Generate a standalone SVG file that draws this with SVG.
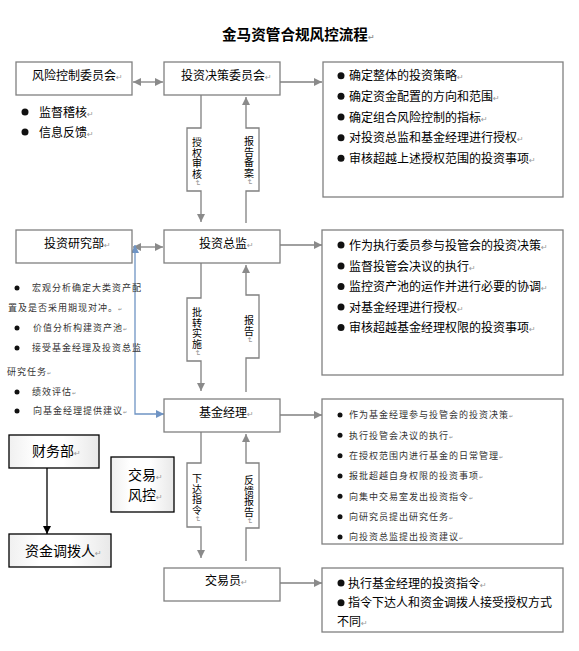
<svg xmlns="http://www.w3.org/2000/svg" width="579" height="651" viewBox="0 0 579 651">
<style>
.box{fill:#fff;stroke:#808080;stroke-width:1.3}
.fbox{fill:url(#grad);stroke:#000;stroke-width:1.3}
.t{font-family:"Noto Sans CJK SC","Noto Sans",sans-serif;font-size:12px;fill:#000}
.title{font-size:14.6px;font-weight:bold}
.big{font-size:14px}
.s{font-size:9px;letter-spacing:1px;fill:#333}
.v{font-size:10px;writing-mode:vertical-rl;letter-spacing:0.75px}
.pm{font-family:"DejaVu Sans",sans-serif;font-size:8px;fill:#999;letter-spacing:0}
.pms{font-family:"DejaVu Sans",sans-serif;font-size:5px;fill:#888;letter-spacing:0}
.c{fill:none;stroke:#808080;stroke-width:1.3}
.cb{fill:none;stroke:#6f94c4;stroke-width:1.3}
.ck{fill:none;stroke:#000;stroke-width:1.3}
.dot{fill:#111}
</style>
<defs>
<linearGradient id="grad" x1="0" y1="0" x2="1" y2="0">
<stop offset="0" stop-color="#f0f0f0"/>
<stop offset="0.3" stop-color="#ffffff"/>
<stop offset="0.6" stop-color="#ffffff"/>
<stop offset="1" stop-color="#e8e8e8"/>
</linearGradient>
<marker id="ah" markerUnits="userSpaceOnUse" markerWidth="9" markerHeight="9" refX="8" refY="4" orient="auto-start-reverse"><path d="M0,0 L8,4 L0,8 z" fill="#8a8a8a"/></marker>
<marker id="ahb" markerUnits="userSpaceOnUse" markerWidth="9" markerHeight="9" refX="8" refY="4" orient="auto-start-reverse"><path d="M0,0 L8,4 L0,8 z" fill="#6f94c4"/></marker>
<marker id="ahk" markerUnits="userSpaceOnUse" markerWidth="9" markerHeight="9" refX="8" refY="4" orient="auto-start-reverse"><path d="M0,0 L8,4 L0,8 z" fill="#000"/></marker>
</defs>
<rect width="579" height="651" fill="#fff"/>

<text class="t title" x="222" y="40">金马资管合规风控流程<tspan class="pm">↵</tspan></text>

<g id="connectors">
<path class="c" d="M133,82 L163,82" marker-start="url(#ah)" marker-end="url(#ah)"/>
<path class="c" d="M280,82 L322,82" marker-end="url(#ah)"/>
<path class="c" d="M201,95 L201,128 L187,128 L187,191 L201,191 L201,222" marker-end="url(#ah)"/>
<path class="c" d="M246,223 L246,191 L259,191 L259,128 L246,128 L246,97" marker-end="url(#ah)"/>
<path class="c" d="M133,247 L163,247" marker-start="url(#ah)" marker-end="url(#ah)"/>
<path class="c" d="M280,245 L322,245" marker-end="url(#ah)"/>
<path class="c" d="M201,263 L201,298 L187,298 L187,361 L201,361 L201,391" marker-end="url(#ah)"/>
<path class="c" d="M246,392 L246,358 L259,358 L259,295 L246,295 L246,265" marker-end="url(#ah)"/>
<path class="cb" d="M135,245 L135,414 L164,414" marker-start="url(#ahb)" marker-end="url(#ahb)"/>
<path class="c" d="M280,415 L322,415" marker-end="url(#ah)"/>
<path class="c" d="M201,432 L201,463 L187,463 L187,527 L201,527 L201,558" marker-end="url(#ah)"/>
<path class="c" d="M246,561 L246,528 L259,528 L259,463 L246,463 L246,434" marker-end="url(#ah)"/>
<path class="c" d="M280,583 L322,583" marker-end="url(#ah)"/>
<path class="ck" d="M47,468 L47,534" marker-end="url(#ahk)"/>
<text class="t v" x="197" y="137">授权审核<tspan class="pm">↵</tspan></text>
<text class="t v" x="249" y="136">报告备案<tspan class="pm">↵</tspan></text>
<text class="t v" x="197" y="307">批转实施<tspan class="pm">↵</tspan></text>
<text class="t v" x="249" y="315">报告<tspan class="pm">↵</tspan></text>
<text class="t v" x="197" y="473">下达指令<tspan class="pm">↵</tspan></text>
<text class="t v" x="249" y="475">反馈报告<tspan class="pm">↵</tspan></text>
</g>

<g id="risk-committee">
<rect class="box" x="16" y="62" width="116" height="33"/>
<text class="t" x="32" y="79.5">风险控制委员会<tspan class="pm">↵</tspan></text>
<circle class="dot" cx="25" cy="112" r="3.5"/>
<text class="t" x="39" y="116.5">监督稽核<tspan class="pm">↵</tspan></text>
<circle class="dot" cx="25" cy="132" r="3.5"/>
<text class="t" x="39" y="136.5">信息反馈<tspan class="pm">↵</tspan></text>
</g>

<g id="decision-committee">
<rect class="box" x="164" y="62" width="116" height="33"/>
<text class="t" x="181" y="79.5">投资决策委员会<tspan class="pm">↵</tspan></text>
</g>

<g id="decision-duties">
<rect class="box" x="323" y="62" width="240" height="135"/>
<circle class="dot" cx="341" cy="75.7" r="3.5"/>
<text class="t" x="349" y="80">确定整体的投资策略<tspan class="pm">↵</tspan></text>
<circle class="dot" cx="341" cy="96.3" r="3.5"/>
<text class="t" x="349" y="101">确定资金配置的方向和范围<tspan class="pm">↵</tspan></text>
<circle class="dot" cx="341" cy="117" r="3.5"/>
<text class="t" x="349" y="121.5">确定组合风险控制的指标<tspan class="pm">↵</tspan></text>
<circle class="dot" cx="341" cy="137.7" r="3.5"/>
<text class="t" x="349" y="142">对投资总监和基金经理进行授权<tspan class="pm">↵</tspan></text>
<circle class="dot" cx="341" cy="158.3" r="3.5"/>
<text class="t" x="349" y="163">审核超越上述授权范围的投资事项<tspan class="pm">↵</tspan></text>
</g>

<g id="research-dept">
<rect class="box" x="16" y="230" width="116" height="33"/>
<text class="t" x="44" y="247.5">投资研究部<tspan class="pm">↵</tspan></text>
<circle class="dot" cx="17" cy="288" r="2.5"/>
<text class="t s" x="32" y="291.4">宏观分析确定大类资产配</text>
<text class="t s" x="8" y="311.4">置及是否采用期现对冲。<tspan class="pms">↵</tspan></text>
<circle class="dot" cx="17" cy="328" r="2.5"/>
<text class="t s" x="33" y="331.4">价值分析构建资产池<tspan class="pms">↵</tspan></text>
<circle class="dot" cx="17" cy="348" r="2.5"/>
<text class="t s" x="32" y="351.4">接受基金经理及投资总监</text>
<text class="t s" x="7" y="375">研究任务<tspan class="pms">↵</tspan></text>
<circle class="dot" cx="17" cy="392" r="2.5"/>
<text class="t s" x="32" y="395.4">绩效评估<tspan class="pms">↵</tspan></text>
<circle class="dot" cx="17" cy="411" r="2.5"/>
<text class="t s" x="33" y="414.4">向基金经理提供建议<tspan class="pms">↵</tspan></text>
</g>

<g id="cio">
<rect class="box" x="164" y="230" width="116" height="33"/>
<text class="t" x="199" y="247.5">投资总监<tspan class="pm">↵</tspan></text>
</g>

<g id="cio-duties">
<rect class="box" x="322" y="230" width="241" height="145"/>
<circle class="dot" cx="341" cy="245" r="3.5"/>
<text class="t" x="349" y="249.5">作为执行委员参与投管会的投资决策<tspan class="pm">↵</tspan></text>
<circle class="dot" cx="341" cy="266" r="3.5"/>
<text class="t" x="349" y="270.5">监督投管会决议的执行<tspan class="pm">↵</tspan></text>
<circle class="dot" cx="341" cy="286.5" r="3.5"/>
<text class="t" x="349" y="291">监控资产池的运作并进行必要的协调<tspan class="pm">↵</tspan></text>
<circle class="dot" cx="341" cy="307" r="3.5"/>
<text class="t" x="349" y="311.5">对基金经理进行授权<tspan class="pm">↵</tspan></text>
<circle class="dot" cx="341" cy="327.5" r="3.5"/>
<text class="t" x="349" y="332">审核超越基金经理权限的投资事项<tspan class="pm">↵</tspan></text>
</g>

<g id="fund-manager">
<rect class="box" x="164" y="399" width="116" height="33"/>
<text class="t" x="199" y="416.5">基金经理<tspan class="pm">↵</tspan></text>
</g>

<g id="fm-duties">
<rect class="box" x="322" y="399" width="241" height="145"/>
<circle class="dot" cx="340" cy="415" r="2.5"/>
<text class="t s" x="349" y="418.4">作为基金经理参与投管会的投资决策<tspan class="pms">↵</tspan></text>
<circle class="dot" cx="340" cy="435.3" r="2.5"/>
<text class="t s" x="349" y="438.7">执行投管会决议的执行<tspan class="pms">↵</tspan></text>
<circle class="dot" cx="340" cy="455.7" r="2.5"/>
<text class="t s" x="349" y="459.1">在授权范围内进行基金的日常管理<tspan class="pms">↵</tspan></text>
<circle class="dot" cx="340" cy="476" r="2.5"/>
<text class="t s" x="349" y="479.4">报批超越自身权限的投资事项<tspan class="pms">↵</tspan></text>
<circle class="dot" cx="340" cy="496.3" r="2.5"/>
<text class="t s" x="349" y="499.7">向集中交易室发出投资指令<tspan class="pms">↵</tspan></text>
<circle class="dot" cx="340" cy="516.7" r="2.5"/>
<text class="t s" x="349" y="520.1">向研究员提出研究任务<tspan class="pms">↵</tspan></text>
<circle class="dot" cx="340" cy="537" r="2.5"/>
<text class="t s" x="349" y="540.4">向投资总监提出投资建议<tspan class="pms">↵</tspan></text>
</g>

<g id="finance-dept">
<rect class="fbox" x="9" y="435" width="90" height="33"/>
<text class="t big" x="32" y="456">财务部<tspan class="pm">↵</tspan></text>
</g>

<g id="fund-allocator">
<rect class="fbox" x="9" y="534" width="102" height="33"/>
<text class="t big" x="25" y="556">资金调拨人<tspan class="pm">↵</tspan></text>
</g>

<g id="trade-risk">
<rect class="fbox" x="111" y="457" width="63" height="55"/>
<text class="t big" x="128" y="480">交易<tspan class="pm">↵</tspan></text>
<text class="t big" x="128" y="500">风控<tspan class="pm">↵</tspan></text>
</g>

<g id="trader">
<rect class="box" x="164" y="568" width="116" height="33"/>
<text class="t" x="205" y="584.5">交易员<tspan class="pm">↵</tspan></text>
</g>

<g id="trader-duties">
<rect class="box" x="322" y="568" width="241" height="64"/>
<circle class="dot" cx="341" cy="583" r="3.5"/>
<text class="t" x="348" y="587.5">执行基金经理的投资指令<tspan class="pm">↵</tspan></text>
<circle class="dot" cx="341" cy="602.7" r="3.5"/>
<text class="t" x="348" y="607">指令下达人和资金调拨人接受授权方式</text>
<text class="t" x="337" y="626">不同<tspan class="pm">↵</tspan></text>
</g>
</svg>
